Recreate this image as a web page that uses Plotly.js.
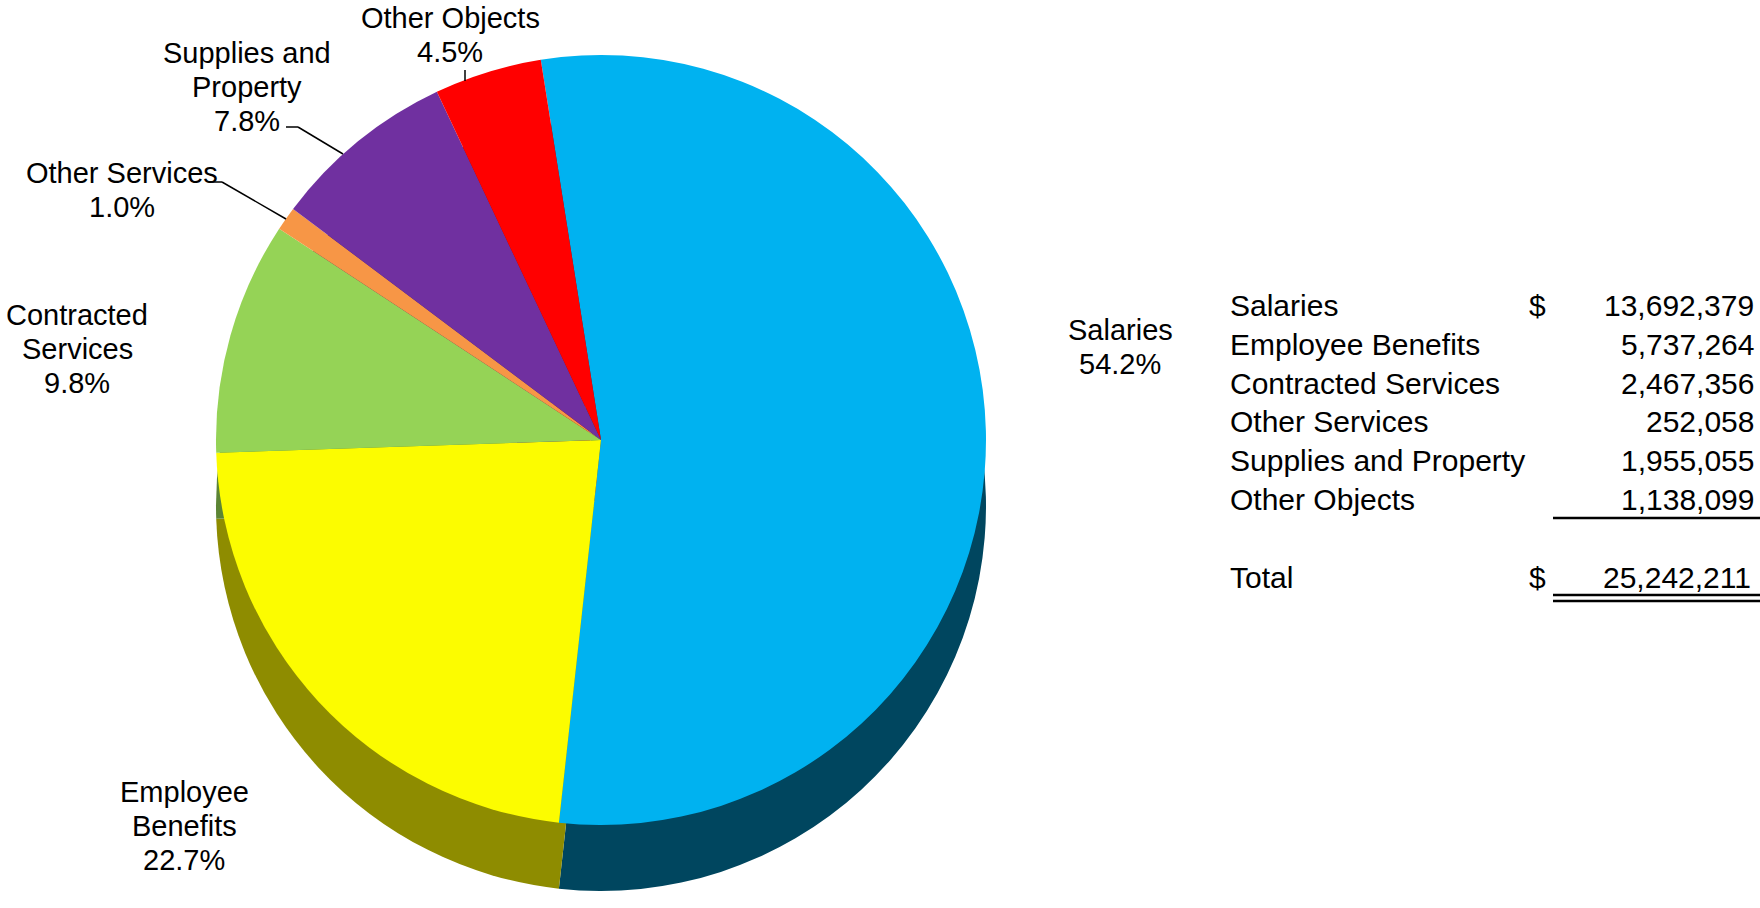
<!DOCTYPE html>
<html>
<head>
<meta charset="utf-8">
<script src="https://cdn.plot.ly/plotly-3.0.1.min.js"></script>
<style>
  html, body { margin: 0; padding: 0; background: #ffffff; }
  #chart { width: 1760px; height: 908px; }
</style>
</head>
<body>
<div id="chart"></div>
<script>
// ---- data ----
const categories = ["Salaries", "Employee Benefits", "Contracted Services", "Other Services", "Supplies and Property", "Other Objects"];
const amounts = [13692379, 5737264, 2467356, 252058, 1955055, 1138099];
const pctLabels = ["54.2%", "22.7%", "9.8%", "1.0%", "7.8%", "4.5%"];
const pieLabelLines = [["Salaries"], ["Employee", "Benefits"], ["Contracted", "Services"], ["Other Services"], ["Supplies and", "Property"], ["Other Objects"]];

// ---- styles ----
const topColors = ["#00B2F0", "#FCFC00", "#95D356", "#F79646", "#7030A0", "#FF0000"];
const sideColors = ["#00465F", "#8E8C00", "#5C8534", "#A0602C", "#461E66", "#A00000"];

const W = 1760, H = 908;
const px = x => x / W;
const py = y => 1 - y / H;

const cx = 601, cy = 440, r = 385, depth = 66;
const FONT = "Liberation Sans, Arial, sans-serif";

function pieTrace(centerY, colors) {
  return {
    type: "pie",
    labels: categories,
    values: amounts,
    sort: false,
    direction: "clockwise",
    rotation: -9,
    textinfo: "none",
    hoverinfo: "skip",
    showlegend: false,
    marker: { colors: colors, line: { width: 0 } },
    domain: {
      x: [px(cx - r - 20), px(cx + r + 20)],
      y: [py(centerY + r), py(centerY - r)]
    }
  };
}

const traces = [pieTrace(cy + depth, sideColors), pieTrace(cy, topColors)];

// ---- pie label annotations ----
const annotations = [];
const labelPos = [
  { x: 1120, y: 330 },
  { x: 184, y: 792 },
  { x: 77, y: 315 },
  { x: 122, y: 173 },
  { x: 247, y: 53 },
  { x: 450, y: 18 }
];
const lineStep = 34;
categories.forEach((c, i) => {
  const lines = pieLabelLines[i].concat([pctLabels[i]]);
  lines.forEach((t, k) => {
    annotations.push({
      xref: "paper", yref: "paper",
      x: px(labelPos[i].x), y: py(labelPos[i].y + k * lineStep),
      xanchor: "center", yanchor: "middle",
      text: t, showarrow: false,
      font: { family: FONT, size: 29, color: "#000000" }
    });
  });
});

// ---- table ----
const rowY = [305, 344, 383, 422, 460, 499];
const tableFont = { family: FONT, size: 30, color: "#000000" };
const fmt = v => v.toLocaleString("en-US");
categories.forEach((c, i) => {
  annotations.push({ xref: "paper", yref: "paper", x: px(1228), y: py(rowY[i]), xanchor: "left", yanchor: "middle", text: c, showarrow: false, font: tableFont });
  annotations.push({ xref: "paper", yref: "paper", x: px(1756), y: py(rowY[i]), xanchor: "right", yanchor: "middle", text: fmt(amounts[i]), showarrow: false, font: tableFont });
});
const total = amounts.reduce((a, b) => a + b, 0);
annotations.push({ xref: "paper", yref: "paper", x: px(1537), y: py(rowY[0]), xanchor: "center", yanchor: "middle", text: "$", showarrow: false, font: tableFont });
annotations.push({ xref: "paper", yref: "paper", x: px(1228), y: py(577), xanchor: "left", yanchor: "middle", text: "Total", showarrow: false, font: tableFont });
annotations.push({ xref: "paper", yref: "paper", x: px(1537), y: py(577), xanchor: "center", yanchor: "middle", text: "$", showarrow: false, font: tableFont });
annotations.push({ xref: "paper", yref: "paper", x: px(1753), y: py(577), xanchor: "right", yanchor: "middle", text: fmt(total), showarrow: false, font: tableFont });

// ---- lines ----
function seg(x0, y0, x1, y1, w) {
  return { type: "line", xref: "paper", yref: "paper", x0: px(x0), y0: py(y0), x1: px(x1), y1: py(y1), line: { color: "#000000", width: w || 1.5 } };
}
const shapes = [
  // leader lines
  seg(465, 70, 465, 81),
  seg(286, 127, 298, 127), seg(298, 127, 343, 154),
  seg(212, 182, 222, 182), seg(222, 182, 286, 219),
  // table rules
  seg(1553, 518, 1760, 518, 2.5),
  seg(1553, 595, 1760, 595, 2.5),
  seg(1553, 601, 1760, 601, 2.5)
];

const layout = {
  width: W, height: H,
  margin: { l: 0, r: 0, t: 0, b: 0 },
  paper_bgcolor: "#ffffff",
  plot_bgcolor: "#ffffff",
  showlegend: false,
  annotations: annotations,
  shapes: shapes
};

Plotly.newPlot("chart", traces, layout, { staticPlot: true, displayModeBar: false });
</script>
</body>
</html>
